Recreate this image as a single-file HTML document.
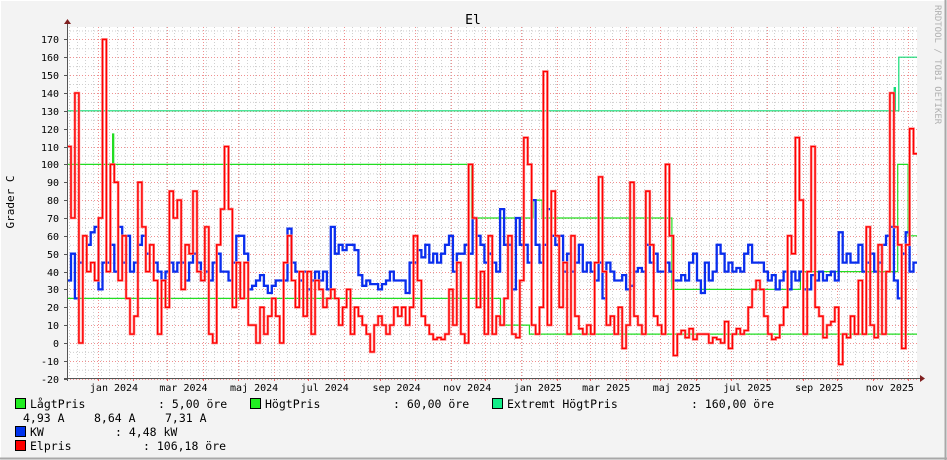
<!DOCTYPE html>
<html>
<head>
<meta charset="utf-8">
<style>
  html,body{margin:0;padding:0;background:#f3f3f3;}
  svg{display:block;}
  .mono{font-family:"DejaVu Sans Mono","Liberation Mono",monospace;}
</style>
</head>
<body>
<svg id="chart" width="947" height="460" viewBox="0 0 947 460" xmlns="http://www.w3.org/2000/svg">
  <rect x="0" y="0" width="947" height="460" fill="#f3f3f3"/>
  <line x1="0" y1="0.5" x2="947" y2="0.5" stroke="#ffffff"/>
  <line x1="0.5" y1="0" x2="0.5" y2="460" stroke="#ffffff"/>
  <line x1="945.5" y1="0" x2="945.5" y2="460" stroke="#a8a8a8" stroke-width="2"/>
  <line x1="0" y1="458.5" x2="947" y2="458.5" stroke="#a8a8a8" stroke-width="2"/>
  <rect x="67" y="27" width="850" height="351" fill="#ffffff"/>
  <g id="grid"></g>
  <g id="series"></g>
  <g id="axes"></g>
  <text x="473" y="24" text-anchor="middle" class="mono" font-size="13" fill="#000">El</text>
  <text transform="translate(14,202) rotate(-90)" text-anchor="middle" class="mono" font-size="11" fill="#000">Grader C</text>
  <text transform="translate(935,5) rotate(90)" class="mono" font-size="9" fill="#b0b0b0">RRDTOOL / TOBI OETIKER</text>

  <g class="mono" font-size="11.5" fill="#000">
    <g>
      <rect x="15.5" y="398.5" width="10" height="10" fill="#22ee22" stroke="#000"/>
      <text x="30" y="408">LågtPris</text>
      <text x="158" y="408">: 5,00 öre</text>
    </g>
    <g>
      <rect x="250.5" y="398.5" width="10" height="10" fill="#22ee22" stroke="#000"/>
      <text x="265" y="408">HögtPris</text>
      <text x="393" y="408">: 60,00 öre</text>
    </g>
    <g>
      <rect x="492.5" y="398.5" width="10" height="10" fill="#11ee88" stroke="#000"/>
      <text x="507" y="408">Extremt HögtPris</text>
      <text x="691" y="408">: 160,00 öre</text>
    </g>
    <g>
      <text x="23" y="422">4,93 A</text>
      <text x="94" y="422">8,64 A</text>
      <text x="165" y="422">7,31 A</text>
    </g>
    <g>
      <rect x="15.5" y="426.5" width="10" height="10" fill="#0033ee" stroke="#000"/>
      <text x="30" y="436">KW</text>
      <text x="115" y="436">: 4,48 kW</text>
    </g>
    <g>
      <rect x="15.5" y="440.5" width="10" height="10" fill="#ff0000" stroke="#000"/>
      <text x="30" y="450">Elpris</text>
      <text x="143" y="450">: 106,18 öre</text>
    </g>
  </g>
</svg>
<script>
// ---- data (days relative to 2024-01-01) ----
const startDay = -26.3;
const stepDays = 3.40;
const endDay = 707.7;
const yTicks = [-20,-10,0,10,20,30,40,50,60,70,80,90,100,110,120,130,140,150,160,170];
const monthLabels = ["jan 2024","mar 2024","maj 2024","jul 2024","sep 2024","nov 2024","jan 2025","mar 2025","maj 2025","jul 2025","sep 2025","nov 2025"];
const monthLabelDays = [0,60,121,182,244,305,366,425,486,547,609,670];
const monthGridDays = [-30,0,31,60,91,121,152,182,213,244,274,305,335,366,397,425,456,486,517,547,578,609,639,670,700];
const elpris = [
 110,70,140,0,60,40,45,35,70,170,40,100,90,35,60,25,5,15,90,65,40,55,35,5,35,20,85,70,80,30,55,50,85,40,35,65,5,0,55,75,110,75,20,45,25,45,10,10,0,20,5,15,25,15,
 0,45,60,35,20,40,15,40,5,35,30,20,25,30,25,10,20,30,5,20,15,10,5,-5,10,15,10,5,10,20,15,20,10,20,60,35,15,10,5,2,3,2,5,30,10,45,5,0,100,70,20,40,5,60,
 5,15,10,25,60,5,3,35,115,100,10,5,20,152,10,85,60,20,45,5,60,15,8,5,10,5,45,93,40,10,15,5,20,-3,10,90,15,10,5,85,55,15,10,5,100,60,-7,5,7,3,8,2,5,5,
 5,0,3,2,0,12,-3,5,8,5,7,20,30,35,30,15,5,2,3,10,20,60,50,115,80,5,40,110,20,15,3,10,12,20,-12,5,3,15,5,35,5,65,10,3,55,5,40,140,65,55,-3,55,120,106
];
const kw = [
 35,50,25,45,60,55,62,65,30,45,45,55,40,65,45,60,40,45,55,60,50,55,45,40,35,40,45,40,45,45,35,45,50,45,35,40,35,45,50,40,40,35,45,60,60,50,30,32,35,38,32,28,32,35,
 35,35,64,45,40,35,40,30,35,40,35,40,30,65,50,55,52,55,55,52,38,32,35,33,33,30,33,35,40,35,35,35,28,45,45,52,48,55,45,50,45,50,55,60,40,50,50,55,50,70,60,55,45,50,
 45,40,75,55,55,30,70,55,55,45,80,55,45,55,75,60,55,60,40,50,40,45,55,40,45,40,35,45,25,45,40,35,35,38,30,32,40,42,40,55,45,50,40,40,45,40,35,35,38,35,45,50,35,28,
 45,35,40,55,50,40,45,40,42,40,50,55,45,45,45,40,35,38,30,35,40,30,40,35,40,30,30,38,35,40,35,38,40,35,62,45,50,45,45,55,40,45,50,40,45,55,60,65,35,25,50,62,40,45
];
const lowDays = [-27,348,373];
const lowVals = [25,10,5];
const highDays = [-27,13,14,323,376,384,496,607,691,700];
const highVals = [100,117,100,70,80,70,30,40,100,60];
const extDays = [-27,688,689,692];
const extVals = [130,143,130,160];

// ---- scales ----
const X0 = 97.5, PXD = 1.158, Y0 = 343, PXV = 1.786;
function xs(d){ return X0 + d*PXD; }
function ys(v){ return Y0 - v*PXV; }
const NS = "http://www.w3.org/2000/svg";
function mk(tag, attrs, parent){
  const e = document.createElementNS(NS, tag);
  for (const k in attrs) e.setAttribute(k, attrs[k]);
  parent.appendChild(e);
  return e;
}
const grid = document.getElementById('grid');
const series = document.getElementById('series');
const axes = document.getElementById('axes');
const L = 67, R = 917, T = 27, B = 378;

for (let v = -20; v <= 175; v += 5) {
  if (v % 10 === 0) continue;
  const l = mk('line', {x1:L, x2:R, y1:ys(v)+0.5, y2:ys(v)+0.5, stroke:'#cfcfcf', 'stroke-dasharray':'1,2'}, grid);
  
  
}
for (let d = -25; d < endDay; d += 7) {
  const x = Math.round(xs(d))+0.5;
  const l = mk('line', {x1:x, x2:x, y1:T, y2:B, stroke:'#cfcfcf', 'stroke-dasharray':'1,2'}, grid);
  
  
}
yTicks.forEach(v => {
  const y = Math.round(ys(v))+0.5;
  const l = mk('line', {x1:L, x2:R, y1:y, y2:y, stroke:'#f09090', 'stroke-dasharray':'1,2'}, grid);
  
  
  const t = mk('text', {x:59, y:y+3.5, 'text-anchor':'end', 'font-size':'10', fill:'#000', class:'mono'}, axes);
  t.textContent = String(v);
  
  
  const tk = mk('line', {x1:64, x2:67, y1:y, y2:y, stroke:'#555'}, axes);
  
  
});
monthGridDays.forEach(d => {
  const x = Math.round(xs(d))+0.5;
  if (x < L || x > R) return;
  const l = mk('line', {x1:x, x2:x, y1:T, y2:B, stroke:'#f09090', 'stroke-dasharray':'1,2'}, grid);
  
  
  const tk = mk('line', {x1:x, x2:x, y1:B, y2:B+3, stroke:'#f06060'}, axes);
  
  
});
monthLabels.forEach((s, i) => {
  const t = mk('text', {x:xs(monthLabelDays[i])+16.5, y:391, 'text-anchor':'middle', 'font-size':'10', fill:'#000', class:'mono'}, axes);
  t.textContent = s;
  
  
});

function stepPath(days, vals){
  let p = 'M' + xs(Math.max(days[0], startDay-1)).toFixed(1) + ',' + ys(vals[0]).toFixed(1);
  for (let i = 1; i < days.length; i++) {
    p += 'H' + xs(days[i]).toFixed(1) + 'V' + ys(vals[i]).toFixed(1);
  }
  p += 'H' + R;
  return p;
}
function seriesPath(vals){
  let p = '';
  vals.forEach((v, i) => {
    const x0 = xs(startDay + i*stepDays);
    const x1 = Math.min(xs(startDay + (i+1)*stepDays), R);
    const y = ys(v).toFixed(1);
    p += (i === 0 ? 'M' + x0.toFixed(1) + ',' + y : 'V' + y) + 'H' + x1.toFixed(1);
  });
  return p;
}
const svgClip = mk('clipPath', {id:'plotclip'}, series);
mk('rect', {x:L, y:T-5, width:R-L, height:B-T+5}, svgClip);

const lowLine = mk('path', {d:stepPath(lowDays, lowVals), fill:'none', stroke:'#22dd22', 'stroke-width':'1.2', 'clip-path':'url(#plotclip)'}, series);


const highLine = mk('path', {d:stepPath(highDays, highVals), fill:'none', stroke:'#22dd22', 'stroke-width':'1.2', 'clip-path':'url(#plotclip)'}, series);


const extLine = mk('path', {d:stepPath(extDays, extVals), fill:'none', stroke:'#11dd77', 'stroke-width':'1.2', 'clip-path':'url(#plotclip)'}, series);



const kwLine = mk('path', {d:seriesPath(kw), fill:'none', stroke:'#0a2eee', 'stroke-width':'2.3', 'clip-path':'url(#plotclip)'}, series);


const elLineBg = mk('path', {d:seriesPath(elpris), fill:'none', stroke:'#ff8080', 'stroke-width':'2.6', 'clip-path':'url(#plotclip)'}, series);


const elLine = mk('path', {d:seriesPath(elpris), fill:'none', stroke:'#ff0000', 'stroke-width':'1.3', 'clip-path':'url(#plotclip)'}, series);



const yAxis = mk('line', {x1:L+0.5, x2:L+0.5, y1:T-5, y2:B+3, stroke:'#555'}, axes);


const yArrow = mk('path', {d:'M64,24 L71,24 L67.5,19 Z', fill:'#802020'}, axes);


const xAxis = mk('line', {x1:L-3, x2:R+3, y1:B+0.5, y2:B+0.5, stroke:'#555'}, axes);


const xArrow = mk('path', {d:'M920,375 L920,382 L925,378.5 Z', fill:'#802020'}, axes);


</script>
</body>
</html>
